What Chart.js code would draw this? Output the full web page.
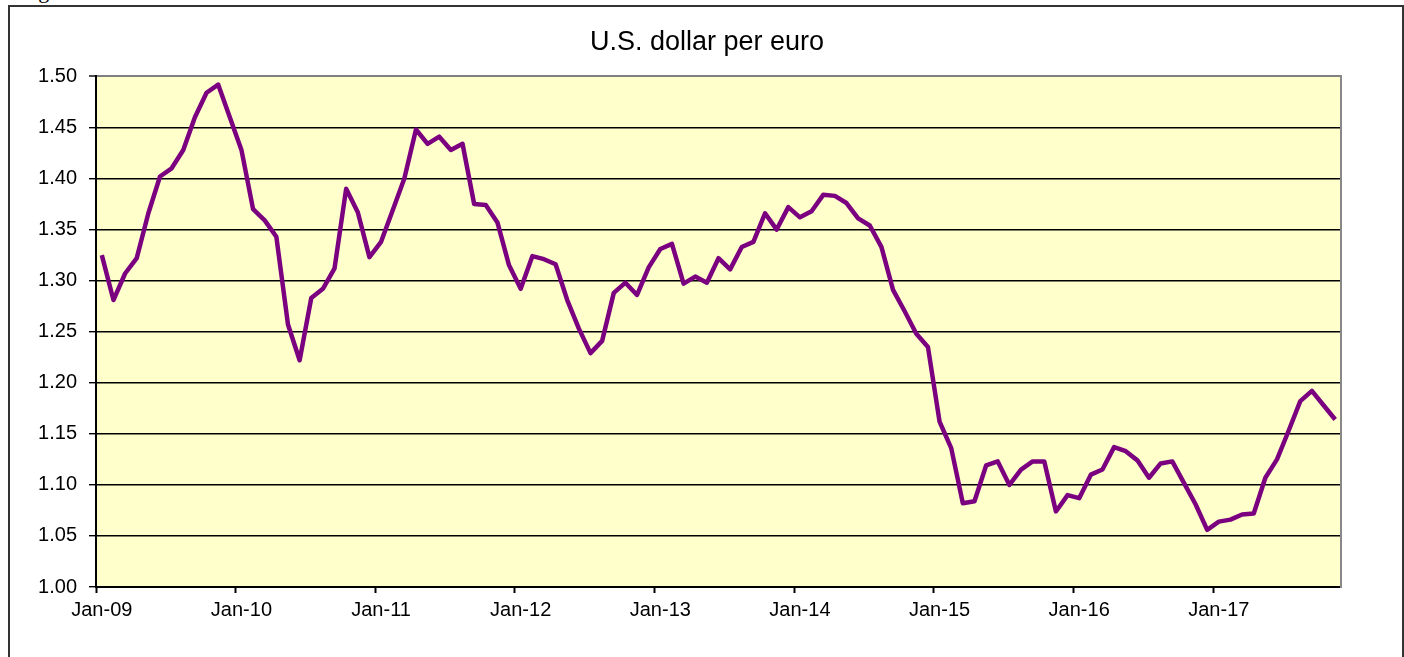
<!DOCTYPE html>
<html>
<head>
<meta charset="utf-8">
<title>U.S. dollar per euro</title>
<script src="https://cdn.jsdelivr.net/npm/chart.js"></script>
<style>
  html, body { margin: 0; padding: 0; background: #fff; }
  body { width: 1404px; height: 657px; position: relative; overflow: hidden; }
  #frame {
    position: absolute; left: 8px; top: 5px; width: 1392px; height: 700px;
    border: 2px solid #333;
  }
  #caption {
    position: absolute; left: 20px; top: -22px;
    font-family: "Liberation Serif", "Times New Roman", serif; font-size: 22px; color: #000;
  }
  #myChart { position: absolute; left: 0; top: 0; }
</style>
</head>
<body>
<div id="frame"></div>
<div id="caption">Figure</div>
<canvas id="myChart" width="1404" height="657"></canvas>
<script>
// categories: Jan-09 .. Nov-17
var monthNames = ["Jan","Feb","Mar","Apr","May","Jun","Jul","Aug","Sep","Oct","Nov","Dec"];
var years = ["09","10","11","12","13","14","15","16","17"];

// U.S. dollar per euro, monthly averages
var rate2009 = [1.325, 1.281, 1.307, 1.322, 1.366, 1.402, 1.410, 1.428, 1.460, 1.484, 1.492, 1.460];
var rate2010 = [1.428, 1.370, 1.359, 1.343, 1.257, 1.222, 1.283, 1.292, 1.312, 1.390, 1.367, 1.323];
var rate2011 = [1.338, 1.369, 1.400, 1.448, 1.434, 1.441, 1.428, 1.434, 1.375, 1.374, 1.357, 1.315];
var rate2012 = [1.292, 1.324, 1.321, 1.316, 1.281, 1.253, 1.229, 1.241, 1.288, 1.298, 1.286, 1.313];
var rate2013 = [1.331, 1.336, 1.297, 1.304, 1.298, 1.322, 1.311, 1.333, 1.338, 1.366, 1.350, 1.372];
var rate2014 = [1.362, 1.368, 1.384, 1.383, 1.376, 1.361, 1.354, 1.333, 1.291, 1.270, 1.248, 1.235];
var rate2015 = [1.162, 1.136, 1.082, 1.084, 1.119, 1.123, 1.100, 1.115, 1.123, 1.123, 1.074, 1.090];
var rate2016 = [1.087, 1.110, 1.115, 1.137, 1.133, 1.124, 1.107, 1.121, 1.123, 1.102, 1.081, 1.056];
var rate2017 = [1.064, 1.066, 1.071, 1.072, 1.107, 1.125, 1.153, 1.182, 1.192, 1.178, 1.164];

var yTicks = [1.00, 1.05, 1.10, 1.15, 1.20, 1.25, 1.30, 1.35, 1.40, 1.45, 1.50];

var rates = [].concat(rate2009, rate2010, rate2011, rate2012, rate2013,
                      rate2014, rate2015, rate2016, rate2017);
var labels = [];
for (var i = 0; i < rates.length; i++) {
  labels.push(monthNames[i % 12] + "-" + years[Math.floor(i / 12)]);
}

var FONT = "Arial, 'Liberation Sans', sans-serif";

// yellow plot area like the Excel original
var plotArea = {
  id: "plotArea",
  beforeDraw: function (chart) {
    var a = chart.chartArea, c = chart.ctx;
    c.save();
    c.fillStyle = "#FFFFCC";
    c.fillRect(a.left, a.top, a.right - a.left, a.bottom - a.top);
    c.restore();
  }
};

var ctx = document.getElementById("myChart").getContext("2d");
var myChart = new Chart(ctx, {
  type: "line",
  data: {
    labels: labels,
    datasets: [
      {
        label: "U.S. dollar per euro",
        data: rates,
        borderColor: "#7B0080",
        borderWidth: 4.5,
        borderJoinStyle: "round",
        pointRadius: 0,
        tension: 0,
        fill: false
      }
    ]
  },
  options: {
    responsive: false,
    animation: false,
    devicePixelRatio: 1,
    layout: { padding: { left: 10, right: 0, top: 0, bottom: 0 } },
    plugins: {
      legend: { display: false },
      tooltip: { enabled: false },
      title: {
        display: true,
        text: "U.S. dollar per euro",
        color: "#000",
        font: { family: FONT, size: 27, weight: "normal", lineHeight: 1.2 },
        padding: { top: 26, bottom: 18 }
      }
    },
    scales: {
      x: {
        type: "category",
        offset: true,
        grid: {
          offset: true,
          drawOnChartArea: false,
          drawTicks: true,
          tickLength: 6,
          tickWidth: 2,
          tickColor: function (c) { return c.index % 12 === 0 ? "#000" : "rgba(0,0,0,0)"; },
          color: "rgba(0,0,0,0)"
        },
        border: { color: "#000", width: 2 },
        ticks: {
          autoSkip: false,
          maxRotation: 0,
          minRotation: 0,
          padding: 5,
          color: "#000",
          font: { family: FONT, size: 20 },
          callback: function (v, idx) { return idx % 12 === 0 ? labels[idx] : ""; }
        },
        afterFit: function (s) { s.height = 70; }
      },
      y: {
        min: 1.0,
        max: 1.5,
        afterBuildTicks: function (s) {
          s.ticks = yTicks.map(function (v) { return { value: v }; });
        },
        grid: {
          color: function (c) { return c.tick && c.tick.value >= 1.499 ? "#808080" : "#000"; },
          lineWidth: function (c) { return c.tick && c.tick.value >= 1.499 ? 2 : 1.4; },
          tickColor: "#000",
          tickLength: 7,
          tickWidth: 1.4
        },
        border: { color: "#000", width: 2 },
        ticks: {
          padding: 12,
          color: "#000",
          font: { family: FONT, size: 20 },
          callback: function (v) { return Number(v).toFixed(2); }
        },
        afterFit: function (s) { s.width = 86; }
      },
      // empty right axis: gives the grey right edge of the plot area
      yRight: {
        position: "right",
        min: 1.0,
        max: 1.5,
        grid: { drawOnChartArea: false, drawTicks: false },
        border: { color: "#888", width: 2 },
        ticks: { display: false },
        afterFit: function (s) { s.width = 63; }
      }
    }
  },
  plugins: [plotArea]
});
</script>
</body>
</html>
